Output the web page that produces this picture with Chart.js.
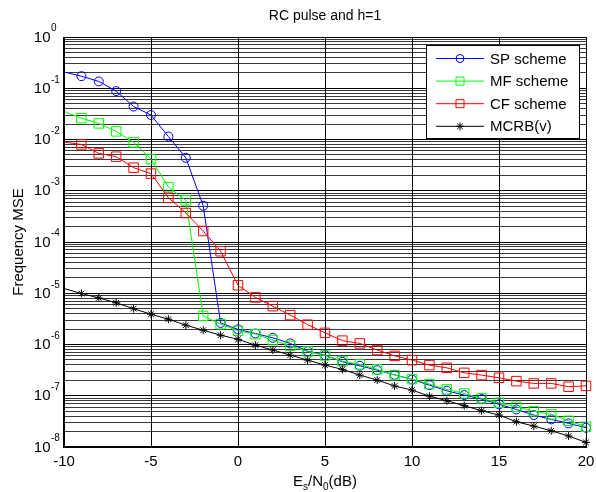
<!DOCTYPE html>
<html><head><meta charset="utf-8">
<script src="https://cdn.jsdelivr.net/npm/chart.js@4/dist/chart.umd.min.js"></script>
<style>html,body{margin:0;padding:0;background:#fff;overflow:hidden}#wrap{width:596px;height:492px}</style>
</head><body><div id="wrap"><canvas id="c" width="596" height="492"></canvas></div>
<script>
const xValues = [-10,-9,-8,-7,-6,-5,-4,-3,-2,-1,0,1,2,3,4,5,6,7,8,9,10,11,12,13,14,15,16,17,18,19,20];
const spScheme = [0.208,0.172,0.136,0.088,0.044,0.030,0.0114,0.0044,5.1e-4,2.64e-6,1.97e-6,1.64e-6,1.35e-6,1.05e-6,7.4e-7,6.2e-7,4.6e-7,3.84e-7,3.16e-7,2.56e-7,2.08e-7,1.61e-7,1.25e-7,1.03e-7,8.6e-8,6.8e-8,5.4e-8,4.2e-8,3.46e-8,2.89e-8,2.38e-8];
const mfScheme = [0.0353,0.0261,0.0206,0.0144,0.0088,0.00415,0.00118,6.5e-4,3.62e-6,2.49e-6,1.85e-6,1.59e-6,1.22e-6,9.4e-7,7.3e-7,6.1e-7,4.74e-7,4.09e-7,3.27e-7,2.53e-7,2.11e-7,1.69e-7,1.33e-7,1.11e-7,8.9e-8,7.3e-8,6.1e-8,5.0e-8,4.33e-8,3.25e-8,2.48e-8];
const cfScheme = [0.0089,0.0080,0.00536,0.00462,0.00282,0.00216,7.3e-4,3.68e-4,1.64e-4,6.6e-5,1.43e-5,8.3e-6,5.6e-6,3.74e-6,2.44e-6,1.69e-6,1.19e-6,1.05e-6,7.8e-7,6.0e-7,4.96e-7,3.96e-7,3.51e-7,2.80e-7,2.53e-7,2.24e-7,1.93e-7,1.74e-7,1.74e-7,1.50e-7,1.56e-7];
const mcrbBound = [1.24e-5,9.9e-6,8.1e-6,6.5e-6,5.0e-6,3.9e-6,3.12e-6,2.38e-6,1.90e-6,1.52e-6,1.26e-6,9.7e-7,7.8e-7,6.2e-7,4.96e-7,3.96e-7,3.27e-7,2.53e-7,2.02e-7,1.55e-7,1.29e-7,9.8e-8,8.0e-8,6.4e-8,5.1e-8,4.2e-8,3.11e-8,2.56e-8,2.07e-8,1.64e-8,1.23e-8];
const xTicks = [-10,-5,0,5,10,15,20];
const xTickLabels = ['-10','-5','0','5','10','15','20'];
const yExponents = [0,-1,-2,-3,-4,-5,-6,-7,-8];
const yExpLabels = ['0','-1','-2','-3','-4','-5','-6','-7','-8'];
const seriesNames = ['SP scheme','MF scheme','CF scheme','MCRB(v)'];
const titleText = 'RC pulse and h=1';
const yLabelText = 'Frequency MSE';

const FONT = '"Liberation Sans", Arial, Helvetica, sans-serif';
const series = [
  {name: seriesNames[0], data: spScheme, color: '#0000ff', style: 'circle', r: 4.5, lr: 4, order: 3},
  {name: seriesNames[1], data: mfScheme, color: '#00ff00', style: 'rect', r: 6.7, lr: 5.7, order: 2},
  {name: seriesNames[2], data: cfScheme, color: '#ff0000', style: 'rect', r: 6.7, lr: 5.7, order: 1},
  {name: seriesNames[3], data: mcrbBound, color: '#000000', style: 'star', r: 4, lr: 4, order: 0}
];

const yGridValues = [];
for (let e = -8; e <= 0; e++) {
  for (let m = 1; m <= 9; m++) {
    const v = m * Math.pow(10, e);
    if (v <= 1.0000001) yGridValues.push(v);
    if (e === 0) break;
  }
}
function isMajorLog(v) {
  const l = Math.log10(v);
  return Math.abs(l - Math.round(l)) < 1e-6;
}

function drawMarker(ctx, style, x, y, r, color) {
  ctx.save();
  ctx.strokeStyle = color; ctx.lineWidth = 1;
  ctx.beginPath();
  if (style === 'circle') {
    ctx.arc(x, y, r, 0, Math.PI * 2);
  } else if (style === 'rect') {
    const s = r * Math.SQRT1_2;
    ctx.rect(x - s, y - s, 2 * s, 2 * s);
  } else {
    ctx.moveTo(x, y - r); ctx.lineTo(x, y + r);
    ctx.moveTo(x - r, y); ctx.lineTo(x + r, y);
    const d = r * Math.SQRT1_2;
    ctx.moveTo(x - d, y - d); ctx.lineTo(x + d, y + d);
    ctx.moveTo(x - d, y + d); ctx.lineTo(x + d, y - d);
  }
  ctx.stroke();
  ctx.restore();
}

const decor = {
  id: 'decor',
  beforeDraw(chart) {
    const ctx = chart.ctx;
    ctx.save(); ctx.fillStyle = '#fff'; ctx.fillRect(0, 0, chart.width, chart.height); ctx.restore();
  },
  afterDraw(chart) {
    const ctx = chart.ctx;
    const a = chart.chartArea;
    const xs = chart.scales.x, ys = chart.scales.y;
    ctx.save();
    // frame
    ctx.strokeStyle = '#000';
    ctx.lineWidth = 1;
    ctx.beginPath();
    ctx.moveTo(a.left, a.top + 0.5); ctx.lineTo(a.right + 0.5, a.top + 0.5);
    ctx.moveTo(a.right + 0.5, a.top); ctx.lineTo(a.right + 0.5, a.bottom);
    ctx.stroke();
    ctx.lineWidth = 2;
    ctx.beginPath();
    ctx.moveTo(a.left, a.top); ctx.lineTo(a.left, a.bottom + 1);
    ctx.moveTo(a.left - 1, a.bottom); ctx.lineTo(a.right + 1, a.bottom);
    ctx.stroke();

    // legend
    const lx = 426.5, ly = 45.5, lw = 153, lh = 93;
    ctx.fillStyle = '#fff';
    ctx.fillRect(lx, ly, lw, lh);
    ctx.lineWidth = 1; ctx.strokeStyle = '#000';
    ctx.strokeRect(lx, ly, lw, lh);
    ctx.font = '15px ' + FONT;
    ctx.textBaseline = 'middle'; ctx.textAlign = 'left';
    series.forEach((s, i) => {
      const yy = 58.5 + i * 22.6;
      ctx.strokeStyle = s.color; ctx.lineWidth = 1;
      ctx.beginPath(); ctx.moveTo(436, yy); ctx.lineTo(484, yy); ctx.stroke();
      drawMarker(ctx, s.style, 460, yy, s.lr, s.color);
      ctx.fillStyle = '#000';
      ctx.fillText(s.name, 490, yy + 1);
    });

    // title
    ctx.fillStyle = '#000';
    ctx.font = '14px ' + FONT;
    ctx.textAlign = 'center'; ctx.textBaseline = 'middle';
    ctx.fillText(titleText, (a.left + a.right) / 2, 16);

    // x tick labels
    ctx.font = '15px ' + FONT;
    xTicks.forEach((t, i) => {
      ctx.fillText(xTickLabels[i], xs.getPixelForValue(t), 462);
    });

    // y tick labels
    yExponents.forEach((e, i) => {
      const py = ys.getPixelForValue(Math.pow(10, e));
      ctx.font = '15px ' + FONT;
      ctx.textAlign = 'right'; ctx.textBaseline = 'middle';
      ctx.fillText('10', 50.5, py + 0.5);
      ctx.font = '10px ' + FONT;
      ctx.textAlign = 'left';
      ctx.fillText(yExpLabels[i], 51, py - 8.5);
    });

    // y label
    ctx.save();
    ctx.translate(19, (a.top + a.bottom) / 2);
    ctx.rotate(-Math.PI / 2);
    ctx.font = '15px ' + FONT;
    ctx.textAlign = 'center'; ctx.textBaseline = 'middle';
    ctx.fillText(yLabelText, 0, 0);
    ctx.restore();

    // x label  E_s/N_0(dB)
    const parts = [['E', 0], ['s', 1], ['/N', 0], ['0', 1], ['(dB)', 0]];
    let total = 0;
    parts.forEach(p => { ctx.font = (p[1] ? '10px ' : '15px ') + FONT; total += ctx.measureText(p[0]).width; });
    let cx = (a.left + a.right) / 2 - total / 2;
    ctx.textAlign = 'left'; ctx.textBaseline = 'alphabetic';
    parts.forEach(p => {
      ctx.font = (p[1] ? '10px ' : '15px ') + FONT;
      ctx.fillText(p[0], cx, p[1] ? 490 : 486);
      cx += ctx.measureText(p[0]).width;
    });
    ctx.restore();
  }
};

const datasets = series.map(s => ({
  label: s.name,
  data: xValues.map((x, i) => ({x: x, y: s.data[i]})),
  borderColor: s.color,
  backgroundColor: 'rgba(0,0,0,0)',
  borderWidth: 1,
  pointStyle: s.style,
  pointRadius: xValues.map((x, i) => i === 0 ? 0 : s.r),
  pointBorderColor: s.color,
  pointBackgroundColor: 'rgba(0,0,0,0)',
  pointBorderWidth: 1,
  pointHoverRadius: 0,
  tension: 0,
  fill: false,
  clip: false,
  order: s.order
}));

new Chart(document.getElementById('c'), {
  type: 'line',
  data: {datasets: datasets},
  plugins: [decor],
  options: {
    responsive: false,
    animation: false,
    devicePixelRatio: 1,
    events: [],
    layout: {padding: {left: 0, right: 10, top: 37, bottom: 0}},
    plugins: {legend: {display: false}, title: {display: false}, tooltip: {enabled: false}},
    scales: {
      x: {
        type: 'linear', min: -10, max: 20,
        afterBuildTicks: s => { s.ticks = xTicks.map(v => ({value: v})); },
        afterFit: s => { s.height = 45; },
        ticks: {display: false, autoSkip: false},
        border: {display: false},
        grid: {color: '#000', lineWidth: 1, drawTicks: false}
      },
      y: {
        type: 'logarithmic', min: 1e-8, max: 1,
        afterBuildTicks: s => { s.ticks = yGridValues.map(v => ({value: v})); },
        afterFit: s => { s.width = 64; },
        ticks: {display: false, autoSkip: false},
        border: {display: false},
        grid: {
          color: c => (c.tick && isMajorLog(c.tick.value)) ? '#000' : 'rgba(0,0,0,0.78)',
          lineWidth: 1, drawTicks: false
        }
      }
    }
  }
});
</script>
</body></html>
